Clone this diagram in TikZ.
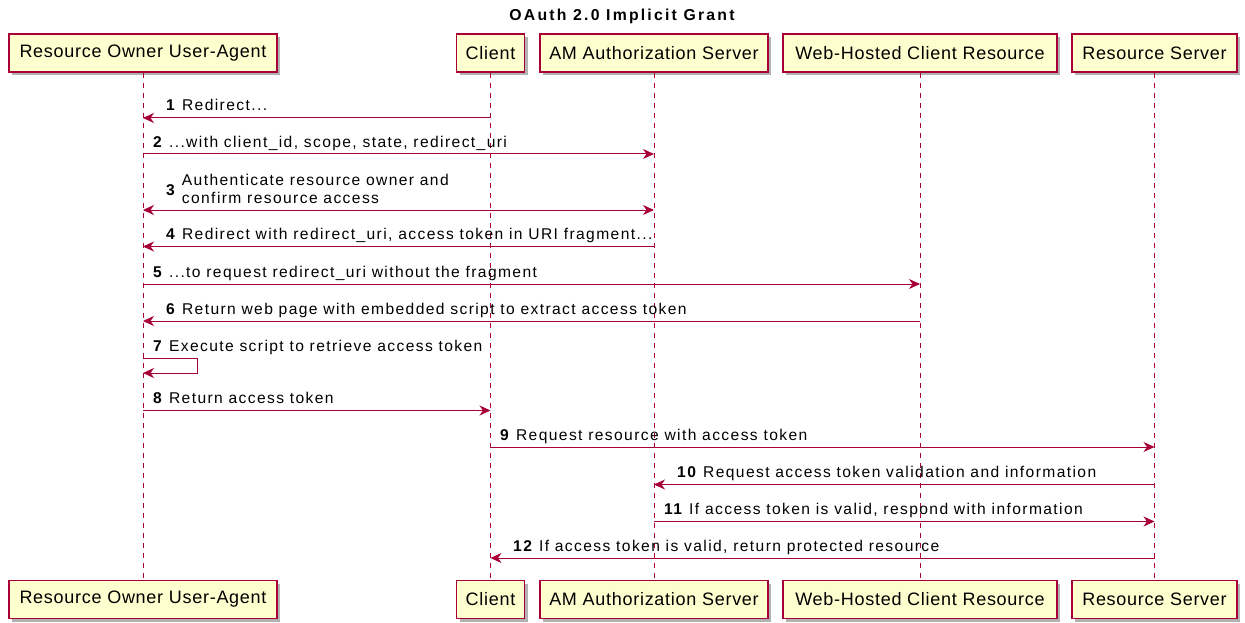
\documentclass[tikz,border=0pt]{standalone}
\usepackage{fontspec}
\setmainfont{Liberation Sans}
\newfontfamily\partfont[LetterSpace=4]{Liberation Sans}
\newfontfamily\msgfont[LetterSpace=9]{Liberation Sans}
\newfontfamily\titlefont[LetterSpace=14]{Liberation Sans}
\usetikzlibrary{arrows.meta,shadows}
\definecolor{umlred}{HTML}{A80036}
\definecolor{umlfill}{HTML}{FEFECE}
\tikzset{
  part/.style={draw=umlred, fill=umlfill, line width=1.5pt, minimum height=38pt, inner sep=0pt,
    font=\partfont\fontsize{18}{20}\selectfont,
    drop shadow={shadow xshift=3pt, shadow yshift=-3pt, fill=black, opacity=0.3}},
  life/.style={draw=umlred, line width=1pt, dash pattern=on 5pt off 5pt},
  msg/.style={draw=umlred, line width=1pt, -{Stealth[length=11pt,width=10pt,inset=3.5pt]}},
  bimsg/.style={draw=umlred, line width=1pt, {Stealth[length=11pt,width=10pt,inset=3.5pt]}-{Stealth[length=11pt,width=10pt,inset=3.5pt]}},
  lbl/.style={anchor=base west, inner sep=0pt, font=\msgfont\fontsize{15.6}{18}\selectfont},
}
\begin{document}
\begin{tikzpicture}[x=1pt,y=-1pt]
\useasboundingbox (0,0) rectangle (1245,623);
% title
\node[anchor=base, inner sep=0pt, font=\titlefont\bfseries\fontsize{15.8}{18}\selectfont] (title) at (622,20.7) {OAuth 2.0 Implicit Grant};
% participants top
\node[part, minimum width=268pt] (oa) at (143,53) {Resource Owner User-Agent};
\node[part, minimum width=68pt]  (cl) at (490.5,53) {Client};
\node[part, minimum width=228pt] (as) at (654,53) {AM Authorization Server};
\node[part, minimum width=274pt] (wh) at (920,53) {Web-Hosted Client Resource};
\node[part, minimum width=165pt] (rs) at (1154.5,53) {Resource Server};
% participants bottom
\node[part, minimum width=268pt] (oa2) at (143,599.5) {Resource Owner User-Agent};
\node[part, minimum width=68pt]  (cl2) at (490.5,599.5) {Client};
\node[part, minimum width=228pt] (as2) at (654,599.5) {AM Authorization Server};
\node[part, minimum width=274pt] (wh2) at (920,599.5) {Web-Hosted Client Resource};
\node[part, minimum width=165pt] (rs2) at (1154.5,599.5) {Resource Server};
% lifelines
\draw[life] (oa) -- (oa2);
\draw[life] (cl) -- (cl2);
\draw[life] (as) -- (as2);
\draw[life] (wh) -- (wh2);
\draw[life] (rs) -- (rs2);
% messages
\draw[msg] (cl |- 0,118) -- (oa |- 0,118);
\node[lbl] (m1) at (166,111) {\textbf{1} Redirect...};
\draw[msg] (oa |- 0,154) -- (as |- 0,154);
\node[lbl] (m2) at (153,147) {\textbf{2} ...with client\_id, scope, state, redirect\_uri};
\draw[bimsg] (oa |- 0,210) -- (as |- 0,210);
\node[lbl] (m3) at (166,195) {\textbf{3}};
\node[lbl] (m3a) at (181.7,185.3) {Authenticate resource owner and};
\node[lbl] (m3b) at (181.7,203.3) {confirm resource access};
\draw[msg] (as |- 0,246.5) -- (oa |- 0,246.5);
\node[lbl] (m4) at (166,239.5) {\textbf{4} Redirect with redirect\_uri, access token in URI fragment...};
\draw[msg] (oa |- 0,284) -- (wh |- 0,284);
\node[lbl] (m5) at (153,277) {\textbf{5} ...to request redirect\_uri without the fragment};
\draw[msg] (wh |- 0,321) -- (oa |- 0,321);
\node[lbl] (m6) at (166,314) {\textbf{6} Return web page with embedded script to extract access token};
\draw[msg] (oa |- 0,358) -- ++(54,0) -- ++(0,15) -- (oa |- 0,373);
\node[lbl] (m7) at (153,351.5) {\textbf{7} Execute script to retrieve access token};
\draw[msg] (oa |- 0,410.5) -- (cl |- 0,410.5);
\node[lbl] (m8) at (153,403.5) {\textbf{8} Return access token};
\draw[msg] (cl |- 0,447) -- (rs |- 0,447);
\node[lbl] (m9) at (500,440) {\textbf{9} Request resource with access token};
\draw[msg] (rs |- 0,484.5) -- (as |- 0,484.5);
\node[lbl] (m10) at (677,477.5) {\textbf{10} Request access token validation and information};
\draw[msg] (as |- 0,521.5) -- (rs |- 0,521.5);
\node[lbl] (m11) at (664,514.5) {\textbf{11} If access token is valid, respond with information};
\draw[msg] (rs |- 0,558) -- (cl |- 0,558);
\node[lbl] (m12) at (513,551.5) {\textbf{12} If access token is valid, return protected resource};
\end{tikzpicture}
\end{document}
